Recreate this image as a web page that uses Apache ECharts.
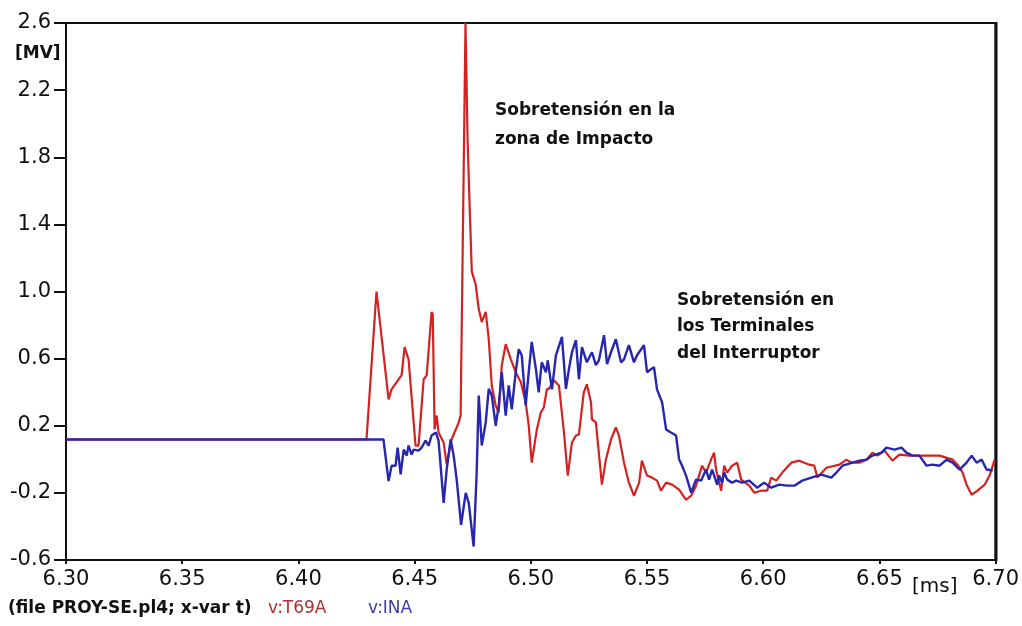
<!DOCTYPE html>
<html>
<head>
<meta charset="utf-8">
<script src="https://cdn.jsdelivr.net/npm/echarts@6/dist/echarts.min.js"></script>
<style>
html,body{margin:0;padding:0;background:#fff;}
#chart{width:1022px;height:626px;}
</style>
</head>
<body>
<div id="chart"></div>
<script>
// ---- data (time in ms, voltage in MV) ----
var redT = [6.30,6.4293,6.4336,6.4388,6.4401,6.4431,6.4444,6.4457,6.4474,6.4504,6.4517,6.4539,6.4552,6.4573,6.4578,6.4586,6.4595,6.4603,6.4625,6.4638,6.4659,6.4690,6.4698,6.4719,6.4728,6.4737,6.4746,6.4763,6.4776,6.4789,6.4806,6.4819,6.4832,6.4849,6.4862,6.4875,6.4892,6.4914,6.4935,6.4957,6.4978,6.4991,6.5004,6.5026,6.5043,6.5056,6.5069,6.5078,6.5099,6.5121,6.5142,6.5159,6.5177,6.5194,6.5207,6.5228,6.5241,6.5259,6.5263,6.5280,6.5306,6.5323,6.5345,6.5366,6.5379,6.5401,6.5422,6.5444,6.5466,6.5478,6.5500,6.5522,6.5543,6.5560,6.5582,6.5608,6.5638,6.5668,6.5690,6.5711,6.5724,6.5737,6.5754,6.5776,6.5789,6.5797,6.5819,6.5832,6.5845,6.5866,6.5888,6.5905,6.5940,6.5961,6.5991,6.6017,6.6034,6.6056,6.6082,6.6121,6.6155,6.6198,6.6220,6.6233,6.6272,6.6328,6.6358,6.6379,6.6414,6.6444,6.6470,6.6491,6.6522,6.6556,6.6586,6.6629,6.6659,6.6703,6.6759,6.6815,6.6836,6.6858,6.6875,6.6897,6.6922,6.6953,6.6974,6.6996];
var redV = [0.118,0.118,1.00,0.357,0.417,0.477,0.50,0.668,0.596,0.082,0.082,0.477,0.50,0.878,0.866,0.178,0.261,0.16,0.10,-0.03,0.118,0.22,0.261,2.60,1.90,1.50,1.12,1.04,0.895,0.818,0.878,0.716,0.44,0.32,0.28,0.56,0.686,0.596,0.519,0.459,0.339,0.202,-0.02,0.178,0.279,0.309,0.417,0.42,0.471,0.44,0.17,-0.097,0.10,0.142,0.148,0.399,0.447,0.339,0.238,0.22,-0.151,-0.002,0.118,0.19,0.142,-0.02,-0.139,-0.217,-0.139,-0.008,-0.097,-0.109,-0.127,-0.187,-0.139,-0.151,-0.181,-0.241,-0.217,-0.157,-0.097,-0.038,-0.079,0.0,0.04,-0.061,-0.187,-0.038,-0.079,-0.038,-0.02,-0.121,-0.157,-0.199,-0.187,-0.187,-0.109,-0.127,-0.079,-0.02,-0.008,-0.032,-0.038,-0.109,-0.05,-0.032,-0.002,-0.02,-0.02,-0.002,0.04,0.022,0.052,-0.008,0.028,0.022,0.022,0.022,0.022,-0.002,-0.032,-0.079,-0.151,-0.211,-0.187,-0.151,-0.097,-0.002];

var blueT = [6.30,6.4366,6.4388,6.4401,6.4418,6.4427,6.4440,6.4453,6.4466,6.4474,6.4487,6.4496,6.4517,6.4530,6.4547,6.4560,6.4573,6.4591,6.4603,6.4625,6.4638,6.4655,6.4668,6.4681,6.4700,6.4720,6.4733,6.4754,6.4767,6.4776,6.4789,6.4806,6.4819,6.4832,6.4849,6.4862,6.4875,6.4892,6.4905,6.4918,6.4935,6.4948,6.4961,6.4978,6.4991,6.5004,6.5022,6.5034,6.5047,6.5065,6.5073,6.5091,6.5108,6.5134,6.5151,6.5164,6.5177,6.5194,6.5207,6.5220,6.5241,6.5263,6.5280,6.5293,6.5315,6.5328,6.5345,6.5366,6.5388,6.5401,6.5422,6.5444,6.5457,6.5487,6.5500,6.5517,6.5530,6.5543,6.5565,6.5582,6.5603,6.5625,6.5638,6.5651,6.5668,6.5690,6.5711,6.5733,6.5754,6.5767,6.5780,6.5802,6.5810,6.5823,6.5832,6.5845,6.5853,6.5866,6.5884,6.5909,6.5940,6.5974,6.6004,6.6034,6.6069,6.6103,6.6134,6.6168,6.6207,6.6250,6.6293,6.6315,6.6341,6.6384,6.6414,6.6444,6.6470,6.6509,6.6530,6.6565,6.6595,6.6616,6.6642,6.6672,6.6703,6.6728,6.6759,6.6789,6.6815,6.6845,6.6875,6.6897,6.6918,6.6940,6.6961,6.6987];
var blueV = [0.118,0.118,-0.13,-0.038,-0.038,0.07,-0.09,0.058,0.022,0.082,0.028,0.058,0.052,0.07,0.112,0.082,0.142,0.16,0.112,-0.26,-0.061,0.118,0.022,-0.12,-0.39,-0.20,-0.259,-0.52,-0.08,0.38,0.082,0.22,0.42,0.381,0.20,0.321,0.52,0.26,0.44,0.297,0.519,0.656,0.62,0.321,0.519,0.70,0.537,0.399,0.578,0.519,0.59,0.417,0.62,0.73,0.42,0.537,0.638,0.71,0.477,0.668,0.578,0.638,0.561,0.59,0.74,0.567,0.638,0.716,0.578,0.596,0.68,0.578,0.62,0.68,0.519,0.537,0.549,0.417,0.339,0.178,0.16,0.142,0.0,-0.038,-0.097,-0.199,-0.121,-0.127,-0.061,-0.121,-0.061,-0.151,-0.097,-0.139,-0.079,-0.121,-0.121,-0.139,-0.127,-0.139,-0.127,-0.169,-0.139,-0.169,-0.151,-0.157,-0.157,-0.127,-0.109,-0.091,-0.109,-0.079,-0.038,-0.02,-0.008,-0.002,0.022,0.04,0.07,0.058,0.07,0.04,0.022,0.022,-0.038,-0.032,-0.038,-0.002,-0.02,-0.061,-0.02,0.022,-0.02,-0.002,-0.061,-0.067];

var xMin = 6.30, xMax = 6.70, xStep = 0.05;
var yMin = -0.6, yMax = 2.6, yStep = 0.4;
var yUnit = '[MV]', xUnit = '[ms]';
var redName = 'v:T69A', blueName = 'v:INA';
var fileNote = '(file PROY-SE.pl4; x-var t)';
var note1 = ['Sobretensión en la', 'zona de Impacto'];
var note2 = ['Sobretensión en', 'los Terminales', 'del Interruptor'];

function zip(t, v){ var o=[]; for (var i=0;i<t.length;i++) o.push([t[i], v[i]]); return o; }

var chart = echarts.init(document.getElementById('chart'));
var FONT = '"DejaVu Sans", "Liberation Sans", Arial, sans-serif';
chart.setOption({
  animation: false,
  backgroundColor: '#ffffff',
  grid: { left: 66, right: 26, top: 23, bottom: 66, show: true, borderColor: '#111', borderWidth: 2, backgroundColor: 'transparent' },
  xAxis: {
    type: 'value', min: xMin, max: xMax, interval: xStep,
    axisLine: { show: true, onZero: false, lineStyle: { color: '#111', width: 2 } },
    axisTick: { show: true, length: 4, inside: false, lineStyle: { color: '#111', width: 2 } },
    splitLine: { show: false },
    axisLabel: { color: '#111', fontSize: 21, fontFamily: FONT, margin: 9,
      formatter: function(v){ return v.toFixed(2); } }
  },
  yAxis: {
    type: 'value', min: yMin, max: yMax, interval: yStep,
    axisLine: { show: true, onZero: false, lineStyle: { color: '#111', width: 2 } },
    axisTick: { show: true, length: 12, lineStyle: { color: '#111', width: 2 } },
    splitLine: { show: false },
    axisLabel: { color: '#111', fontSize: 21, fontFamily: FONT, margin: 15,
      formatter: function(v){ return (Math.round(v*10)/10).toFixed(1); } }
  },
  series: [
    { name: redName, type: 'line', data: zip(redT, redV), symbol: 'none', clip: true,
      lineStyle: { color: '#d42222', width: 2.2 } },
    { name: blueName, type: 'line', data: zip(blueT, blueV), symbol: 'none', clip: true,
      lineStyle: { color: '#2626b0', width: 2.4 } }
  ],
  graphic: [
    { type: 'line', shape: { x1: 996, y1: 22, x2: 996, y2: 561 }, style: { stroke: '#111', lineWidth: 3 } },
    { type: 'text', left: 15, top: 45, style: { text: yUnit, font: 'bold 17px ' + FONT, fill: '#111' } },
    { type: 'text', left: 912, top: 577, style: { text: xUnit, font: '20px ' + FONT, fill: '#111' } },
    { type: 'text', left: 495, top: 96, style: { text: note1.join('\n'), font: 'bold 17px ' + FONT, fill: '#111', lineHeight: 29 } },
    { type: 'text', left: 677, top: 287, style: { text: note2.join('\n'), font: 'bold 17px ' + FONT, fill: '#111', lineHeight: 26.5 } },
    { type: 'text', left: 8, top: 600, style: { text: fileNote, font: 'bold 17px ' + FONT, fill: '#111' } },
    { type: 'text', left: 268, top: 600, style: { text: redName, font: '17px ' + FONT, fill: '#b03030' } },
    { type: 'text', left: 368, top: 600, style: { text: blueName, font: '17px ' + FONT, fill: '#3c3cae' } }
  ]
});
</script>
</body>
</html>
